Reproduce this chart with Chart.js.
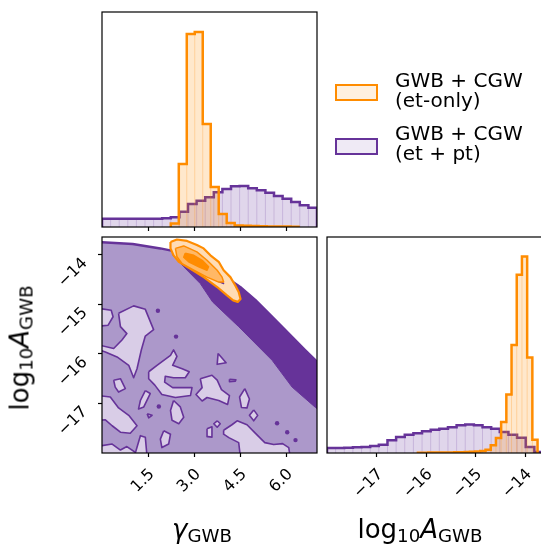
<!DOCTYPE html>
<html>
<head>
<meta charset="utf-8">
<script src="https://cdn.jsdelivr.net/npm/chart.js@4.4.1/dist/chart.umd.min.js"></script>
<style>
  html, body { margin: 0; padding: 0; background: #fff; overflow: hidden; width: 541px; height: 544px; }
  canvas { position: absolute; left: 0; top: 0; }
  .lbl { position: absolute; font-family: "DejaVu Sans", sans-serif; color: #000; white-space: nowrap; font-size: 26px; line-height: 26px; }
  .lbl i { font-style: italic; }
  .lbl .sub { font-size: 70%; position: relative; top: 0.22em; }
  .box { position: absolute; box-sizing: border-box; width: 43px; height: 17px; border-width: 2.5px; border-style: solid; }
  .leg { position: absolute; font-family: "DejaVu Sans", sans-serif; font-size: 20px; line-height: 20px; color: #000; white-space: nowrap; }
</style>
</head>
<body>
<canvas id="histGamma" width="541" height="544"></canvas>
<canvas id="joint" width="541" height="544"></canvas>
<canvas id="histA" width="560" height="544"></canvas>

<div class="lbl" style="left:202px; top:516px; transform:translateX(-50%);"><i>γ</i><span class="sub">GWB</span></div>
<div class="lbl" style="left:420px; top:516px; transform:translateX(-50%);">log<span class="sub">10</span><i>A</i><span class="sub">GWB</span></div>
<div class="lbl" style="left:21px; top:348px; transform:translate(-50%,-50%) rotate(-90deg);">log<span class="sub">10</span><i>A</i><span class="sub">GWB</span></div>

<div class="box" style="left:335px; top:84px; border-color:#ff8c00; background:rgba(255,140,0,0.12);"></div>
<div class="leg" style="left:395px; top:70px;">GWB + CGW<br>(et-only)</div>
<div class="box" style="left:335px; top:138px; border-color:#663399; background:rgba(102,51,153,0.1);"></div>
<div class="leg" style="left:395px; top:123px;">GWB + CGW<br>(et + pt)</div>

<script>
// axes
const gammaRange = [0, 7];
const logARange = [-18, -13.64];
const gammaTicks = [1.5, 3.0, 4.5, 6.0];
const logATicks = [-17, -16, -15, -14];

// 1D histograms (bin range, then heights)
const gammaPurpleRange = [0, 7];
const gammaPurple = [8.3, 8.3, 8.3, 8.3, 8.3, 8.3, 8.3, 8.7, 9.7, 15.3, 23, 26.3, 29.7, 34.7, 38, 40.7, 41, 38.7, 36.7, 34.3, 31, 28.3, 25, 21.7, 19.3];
const gammaOrangeRange = [2.24, 6.40];
const gammaOrange = [3.4, 63, 193, 195, 103, 40, 13, 4, 1.5, 1.2, 1, 0.8, 0.6, 0.5, 0.4, 0.3];

const logAPurpleRange = [-18, -13.64];
const logAPurple = [5, 5, 5.3, 5.7, 6, 7, 8.3, 12.7, 16, 18.3, 19.7, 21.7, 23.3, 24.3, 25.7, 27.7, 28.3, 27.7, 25.7, 24.3, 21, 18.3, 15.3, 6, 1];
const logAOrangeRange = [-16.165, -13.75];
const logAOrange = [0.3, 0.3, 0.4, 0.4, 0.5, 0.5, 0.6, 0.7, 0.8, 1, 1.2, 1.5, 2, 3.3, 7.7, 15, 31, 58.3, 107.7, 177.7, 196, 95.3, 13.3];

// 2D contours, [gamma, log10A]
const purpleTop = [[-0.2, -13.74], [1.0, -13.78], [1.9, -13.87], [2.3, -13.92], [3.0, -14.05], [3.8, -14.35], [4.5, -14.65], [4.99, -14.91], [5.43, -15.18], [5.97, -15.52], [6.62, -15.93], [7.0, -16.16], [7.2, -16.28]];
const purpleBottom = [[7.2, -18.3], [-0.2, -18.3]];
const bandLower = [[7.2, -17.2], [6.95, -17.08], [6.19, -16.67], [5.54, -16.13], [4.45, -15.45], [3.6, -14.95], [3.2, -14.58], [2.66, -14.24], [2.3, -14.0]];
const purpleRing = [[2.50, -13.94], [2.77, -13.87], [3.09, -14.01], [3.42, -14.21], [3.80, -14.45], [3.96, -14.58], [3.69, -14.51], [3.26, -14.35], [2.82, -14.18], [2.55, -14.07]];

const islands = [
    [[-0.1, -15.08], [0.30, -15.12], [0.36, -15.25], [0.20, -15.42], [-0.1, -15.44]],
    [[0.54, -15.18], [1.03, -15.03], [1.41, -15.10], [1.68, -15.51], [1.41, -15.64], [1.28, -15.92], [1.14, -16.30], [1.03, -16.48], [0.87, -16.23], [0.49, -16.06], [0.11, -15.96], [-0.1, -15.92], [-0.1, -15.82], [0.38, -15.89], [0.65, -15.72], [0.81, -15.59], [0.60, -15.45]],
    [[1.52, -16.36], [1.79, -16.23], [2.23, -16.03], [2.33, -15.92], [2.44, -16.05], [2.30, -16.23], [2.61, -16.30], [2.84, -16.36], [2.71, -16.48], [2.33, -16.48], [2.06, -16.45], [2.04, -16.57], [2.30, -16.68], [2.93, -16.68], [2.88, -16.84], [2.39, -16.88], [1.95, -16.82], [1.72, -16.63], [1.52, -16.50]],
    [[0.38, -16.53], [0.60, -16.50], [0.76, -16.70], [0.54, -16.77], [0.43, -16.67]],
    [[-0.1, -16.84], [0.27, -16.87], [0.54, -17.09], [0.87, -17.24], [1.14, -17.45], [0.92, -17.60], [0.60, -17.58], [0.33, -17.45], [0.11, -17.33], [-0.1, -17.34]],
    [[1.41, -16.74], [1.57, -16.80], [1.36, -17.07], [1.19, -17.11], [1.25, -16.94]],
    [[1.47, -17.21], [1.63, -17.24], [1.52, -17.29]],
    [[2.33, -16.94], [2.55, -17.07], [2.66, -17.28], [2.50, -17.41], [2.28, -17.34], [2.23, -17.14]],
    [[3.20, -16.50], [3.58, -16.43], [3.75, -16.53], [3.89, -16.72], [4.15, -16.84], [4.09, -17.02], [3.80, -16.94], [3.42, -16.88], [3.26, -16.95], [3.06, -16.82], [3.26, -16.68]],
    [[2.01, -17.55], [2.23, -17.62], [2.17, -17.82], [1.95, -17.89], [1.90, -17.72]],
    [[-0.1, -17.86], [0.33, -17.82], [0.60, -17.94], [0.81, -17.87], [1.09, -17.99], [1.25, -17.65], [1.41, -17.68], [1.47, -18.1], [-0.1, -18.1]],
    [[3.42, -17.51], [3.58, -17.47], [3.58, -17.68], [3.45, -17.67]],
    [[3.78, -15.99], [4.04, -16.18], [3.75, -16.21]],
    [[4.15, -16.51], [4.36, -16.52], [4.34, -16.55], [4.15, -16.56]],
    [[4.65, -16.70], [4.80, -16.91], [4.72, -17.09], [4.54, -17.08], [4.48, -16.87]],
    [[4.94, -17.13], [5.07, -17.24], [4.94, -17.35], [4.80, -17.24]],
    [[3.75, -17.35], [3.85, -17.41], [3.75, -17.48], [3.64, -17.41]],
    [[3.96, -17.54], [4.23, -17.43], [4.40, -17.35], [4.72, -17.43], [4.99, -17.60], [5.30, -17.79], [5.59, -17.83], [5.88, -17.81], [6.08, -17.89], [6.13, -18.1], [4.51, -18.1], [4.45, -17.79], [4.13, -17.69], [3.96, -17.62]]
];
const purpleDots = [[1.82, -15.13], [2.41, -15.65], [1.85, -17.06], [6.03, -17.58], [6.30, -17.74], [5.70, -17.40]];

const orangeOuter = [[2.23, -13.74], [2.44, -13.69], [2.77, -13.72], [3.09, -13.80], [3.31, -13.87], [3.53, -14.01], [3.80, -14.14], [3.96, -14.31], [4.18, -14.45], [4.34, -14.62], [4.45, -14.75], [4.51, -14.89], [4.42, -14.95], [4.27, -14.92], [4.07, -14.82], [3.75, -14.65], [3.31, -14.45], [2.88, -14.28], [2.50, -14.14], [2.33, -14.01], [2.23, -13.87]];
const orangeMid = [[2.39, -13.87], [2.66, -13.82], [3.09, -13.94], [3.42, -14.11], [3.75, -14.31], [3.91, -14.45], [3.96, -14.55], [3.80, -14.55], [3.42, -14.45], [2.99, -14.31], [2.61, -14.18], [2.44, -14.04]];
const orangeInner = [[2.71, -13.97], [2.99, -14.01], [3.26, -14.11], [3.47, -14.24], [3.42, -14.31], [3.15, -14.24], [2.82, -14.14], [2.66, -14.05]];

const ORANGE = '#ff8c00';
const PURPLE = '#663399';

Chart.defaults.font.family = '"DejaVu Sans", sans-serif';
Chart.defaults.color = '#000';

function edges(range, n) {
    var out = [];
    for (let i = 0; i <= n; i++) out.push(range[0] + (range[1] - range[0]) * i / n);
    return out;
}

// step outline of a histogram, starting and ending on the baseline
function stepOutline(range, values) {
    var e = edges(range, values.length);
    var pts = [{x: e[0], y: 0}];
    values.forEach((v, i) => {
        pts.push({x: e[i], y: v});
        pts.push({x: e[i + 1], y: v});
    });
    pts.push({x: e[values.length], y: 0});
    return pts;
}

// faint bar edges inside the filled histogram
function binLines(range, values) {
    var e = edges(range, values.length);
    var pts = [];
    for (let i = 1; i < values.length; i++) {
        pts.push({x: e[i], y: 0}, {x: e[i], y: Math.min(values[i - 1], values[i])}, {x: e[i], y: null});
    }
    return pts;
}

function histSets(range, values, line, fill, edge) {
    return [
        {data: stepOutline(range, values), showLine: true, borderColor: line, borderWidth: 2.5, pointRadius: 0, fill: false},
        {data: binLines(range, values), showLine: true, borderColor: edge, borderWidth: 1, pointRadius: 0, fill: false, spanGaps: false},
        {data: stepOutline(range, values), showLine: true, borderWidth: 0, borderColor: 'rgba(0,0,0,0)', backgroundColor: fill, pointRadius: 0, fill: 'origin'}
    ];
}

function poly(points, fill, line, width) {
    var data = points.map(p => ({x: p[0], y: p[1]}));
    data.push(data[0]);
    return {data: data, showLine: true, fill: fill ? 'shape' : false, backgroundColor: fill || 'rgba(0,0,0,0)', borderColor: line, borderWidth: width, pointRadius: 0, borderJoinStyle: 'round'};
}

const framePlugin = {
    id: 'frame',
    afterDraw(chart) {
        var ctx = chart.ctx, a = chart.chartArea;
        ctx.save();
        ctx.strokeStyle = '#000';
        ctx.lineWidth = 1.2;
        ctx.strokeRect(a.left, a.top, a.right - a.left, a.bottom - a.top);
        ctx.restore();
    }
};

const minus = v => String(v).replace('-', '\u2212');

function axis(range, ticks, opts) {
    return Object.assign({
        type: 'linear',
        min: range[0],
        max: range[1],
        afterBuildTicks: s => { s.ticks = ticks.map(v => ({value: v})); },
        border: {display: false},
        grid: {display: true, drawOnChartArea: false, drawTicks: true, tickLength: 4, tickColor: '#000', tickWidth: 1.2},
        ticks: {display: false}
    }, opts);
}

function baseOptions(padding, scales) {
    return {
        responsive: false,
        animation: false,
        events: [],
        layout: {padding: padding},
        plugins: {legend: {display: false}, tooltip: {enabled: false}},
        scales: scales
    };
}

const tickFont = {size: 16};
const AXIS_BOX = 60;
const xTickOpts = {display: true, autoSkip: false, minRotation: 45, maxRotation: 45, font: tickFont, padding: 8, labelOffset: 4};
const yTickOpts = {display: true, autoSkip: false, minRotation: 45, maxRotation: 45, font: tickFont, padding: 13, labelOffset: 6, callback: minus};

// top-left: gamma marginal
new Chart(document.getElementById('histGamma'), {
    type: 'scatter',
    data: {datasets: [].concat(
        histSets(gammaOrangeRange, gammaOrange, ORANGE, 'rgba(255,140,0,0.2)', 'rgba(255,140,0,0.25)'),
        histSets(gammaPurpleRange, gammaPurple, PURPLE, 'rgba(102,51,153,0.2)', 'rgba(102,51,153,0.2)')
    )},
    options: baseOptions({left: 102, top: 12, right: 224, bottom: 317 - AXIS_BOX}, {
        x: axis(gammaRange, gammaTicks, {afterFit: s => { s.height = AXIS_BOX; }}),
        y: {type: 'linear', display: false, min: 0, max: 215}
    }),
    plugins: [framePlugin]
});

// bottom-left: joint contours
var jointSets = [
    poly(orangeInner, ORANGE, ORANGE, 1.5),
    poly(orangeMid, '#ffb866', ORANGE, 1.5),
    poly(purpleRing, null, PURPLE, 1.4),
    poly(orangeOuter, '#ffdcb5', ORANGE, 2.2),
    {data: purpleDots.map(p => ({x: p[0], y: p[1]})), pointRadius: 2.2, pointBackgroundColor: PURPLE, pointBorderWidth: 0, showLine: false}
];
islands.forEach(isl => jointSets.push(poly(isl, '#d9cde7', PURPLE, 1.6)));
jointSets.push(poly(purpleTop.slice(3).concat(bandLower), PURPLE, PURPLE, 1));
jointSets.push(poly(purpleTop.concat(purpleBottom), '#ac98ca', PURPLE, 2.5));

new Chart(document.getElementById('joint'), {
    type: 'scatter',
    data: {datasets: jointSets},
    options: baseOptions({left: 102 - AXIS_BOX, top: 237, right: 224, bottom: 91 - AXIS_BOX}, {
        x: axis(gammaRange, gammaTicks, {
            afterFit: s => { s.height = AXIS_BOX; },
            ticks: Object.assign({callback: v => v.toFixed(1)}, xTickOpts)
        }),
        y: axis(logARange, logATicks, {
            afterFit: s => { s.width = AXIS_BOX; },
            ticks: yTickOpts
        })
    }),
    plugins: [framePlugin]
});

// bottom-right: log10 A marginal
new Chart(document.getElementById('histA'), {
    type: 'scatter',
    data: {datasets: [].concat(
        histSets(logAOrangeRange, logAOrange, ORANGE, 'rgba(255,140,0,0.2)', 'rgba(255,140,0,0.25)'),
        histSets(logAPurpleRange, logAPurple, PURPLE, 'rgba(102,51,153,0.2)', 'rgba(102,51,153,0.2)')
    )},
    options: baseOptions({left: 327, top: 237, right: 17, bottom: 91 - AXIS_BOX}, {
        x: axis(logARange, logATicks, {
            afterFit: s => { s.height = AXIS_BOX; },
            ticks: Object.assign({callback: minus}, xTickOpts)
        }),
        y: {type: 'linear', display: false, min: 0, max: 215.4}
    }),
    plugins: [framePlugin]
});
</script>
</body>
</html>
